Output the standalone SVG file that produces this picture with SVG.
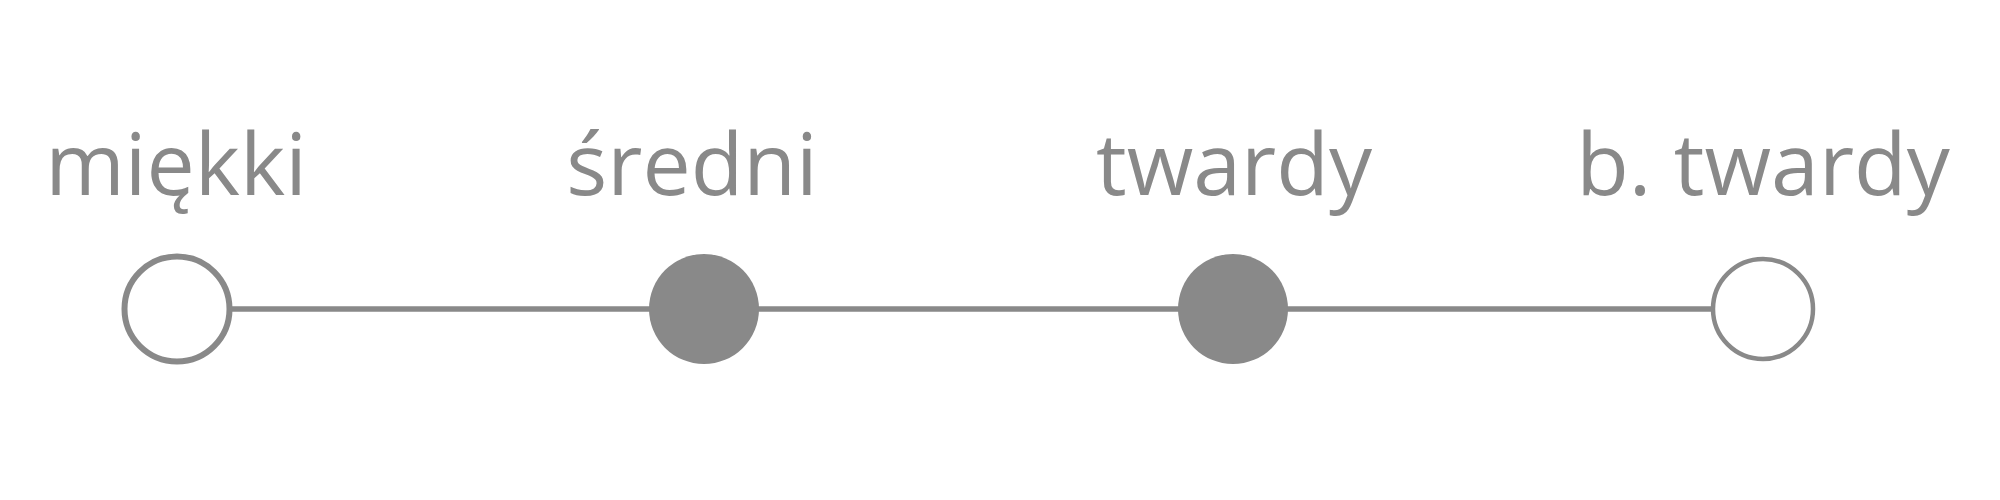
<svg xmlns="http://www.w3.org/2000/svg" width="2000" height="500" viewBox="0 0 2000 500">
<style>
.lbl{font-family:"Open Sans","Noto Sans",sans-serif;font-size:86px;fill:#898989;text-anchor:middle}
.open{fill:#ffffff;stroke:#898989}
.full{fill:#898989;stroke:none}
.conn{stroke:#898989;stroke-width:5.5;fill:none}
</style>
<rect width="2000" height="500" fill="#ffffff"/>
<g id="connectors">
<line class="conn" x1="176" y1="309" x2="704" y2="309"/>
<line class="conn" x1="704" y1="309" x2="1233" y2="309"/>
<line class="conn" x1="1233" y1="309" x2="1762" y2="309"/>
</g>
<g id="node-miekki">
<circle class="open" cx="177" cy="309" r="52.5" stroke-width="6"/>
<text class="lbl" x="176" y="195">miękki</text>
</g>
<g id="node-sredni">
<circle class="full" cx="704" cy="309" r="55"/>
<text class="lbl" x="692" y="195">średni</text>
</g>
<g id="node-twardy">
<circle class="full" cx="1233" cy="309" r="55"/>
<text class="lbl" x="1234" y="195">twardy</text>
</g>
<g id="node-b-twardy">
<circle class="open" cx="1763" cy="309" r="50" stroke-width="4.5"/>
<text class="lbl" x="1763" y="195">b. twardy</text>
</g>
</svg>
